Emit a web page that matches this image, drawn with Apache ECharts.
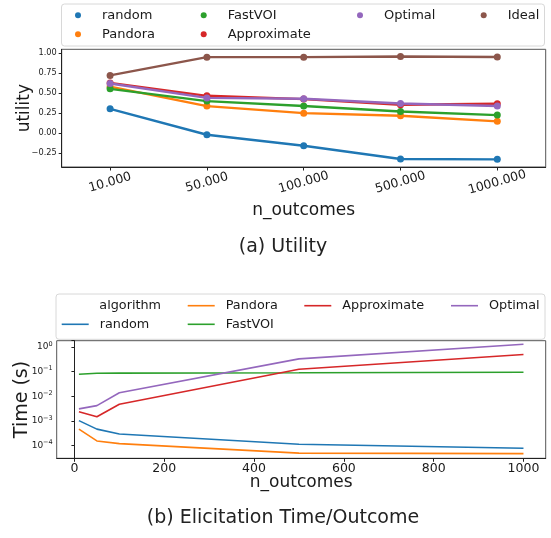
<!DOCTYPE html>
<html>
<head>
<meta charset="utf-8">
<script src="https://cdn.jsdelivr.net/npm/echarts@6/dist/echarts.min.js"></script>
<style>
html,body{margin:0;padding:0;background:#fff;}
#a{position:absolute;left:0;top:0;width:551px;height:270px;}
#b{position:absolute;left:0;top:270px;width:551px;height:268px;}
</style>
</head>
<body>
<div id="a"></div>
<div id="b"></div>
<script>
// ---- Data: (a) Utility ----
const utilityCategories = ['10.000', '50.000', '100.000', '500.000', '1000.000'];
const utilityRandom      = [0.304, -0.019, -0.155, -0.320, -0.325];
const utilityPandora     = [0.580, 0.338, 0.250, 0.217, 0.148];
const utilityFastVOI     = [0.553, 0.400, 0.340, 0.270, 0.226];
const utilityApproximate = [0.627, 0.466, 0.425, 0.354, 0.367];
const utilityOptimal     = [0.620, 0.440, 0.430, 0.370, 0.340];
const utilityIdeal       = [0.720, 0.947, 0.947, 0.955, 0.950];
const utilityTicks = [-0.25, 0, 0.25, 0.5, 0.75, 1.0];

// ---- Data: (b) Elicitation time ----
const timeOutcomes    = [10, 50, 100, 500, 1000];
const timeRandom      = [1.04e-3, 4.7e-4, 3.0e-4, 1.15e-4, 7.9e-5];
const timePandora     = [4.7e-4, 1.56e-4, 1.22e-4, 5.0e-5, 4.8e-5];
const timeFastVOI     = [0.0785, 0.086, 0.087, 0.090, 0.0946];
const timeApproximate = [2.4e-3, 1.5e-3, 4.8e-3, 0.125, 0.50];
const timeOptimal     = [3.1e-3, 4.2e-3, 0.014, 0.33, 1.29];
const timeXTicks = [0, 200, 400, 600, 800, 1000];

const names = ['random', 'Pandora', 'FastVOI', 'Approximate', 'Optimal', 'Ideal'];
const colors = ['#1f77b4', '#ff7f0e', '#2ca02c', '#d62728', '#9467bd', '#8c564b'];
const FONT = 'DejaVu Sans';
const TXT = '#1a1a1a';
const AX = '#222';

function pairs(xs, ys) { return xs.map((x, i) => [x, ys[i]]); }

// ================= Chart A =================
const chartA = echarts.init(document.getElementById('a'), null, {renderer: 'canvas'});
const utilSeries = [utilityRandom, utilityPandora, utilityFastVOI, utilityApproximate, utilityOptimal, utilityIdeal];

function legendA(left, items) {
  return {
    orient: 'vertical', left: left, top: 7.8, padding: 0, itemGap: 4,
    itemWidth: 10, itemHeight: 6, selectedMode: false,
    data: items.map(n => ({name: n, icon: 'circle'})),
    textStyle: {fontFamily: FONT, fontSize: 13, color: TXT, lineHeight: 15, padding: [0, 0, 0, 14]}
  };
}

chartA.setOption({
  animation: false,
  backgroundColor: '#fff',
  color: colors,
  legend: [
    legendA(75, ['random', 'Pandora']),
    legendA(200.7, ['FastVOI', 'Approximate']),
    legendA(357, ['Optimal']),
    legendA(480.7, ['Ideal'])
  ],
  graphic: [
    {type: 'rect', z: -1, shape: {x: 61.5, y: 4, width: 483, height: 42, r: 3},
     style: {fill: '#fff', stroke: '#d8d8d8', lineWidth: 1}},
    {type: 'text', style: {text: '(a) Utility', font: '19px "DejaVu Sans"', fill: '#222', textAlign: 'center', textVerticalAlign: 'middle', x: 283, y: 247}}
  ],
  grid: {left: 61.7, top: 49.3, right: 5.3, height: 117.7, show: true, borderColor: '#555', borderWidth: 1, backgroundColor: 'transparent'},
  xAxis: {
    type: 'category', data: utilityCategories, boundaryGap: true,
    name: 'n_outcomes', nameLocation: 'middle', nameGap: 35, nameMoveOverlap: false,
    nameTextStyle: {fontFamily: FONT, fontSize: 17, color: TXT},
    axisLine: {show: true, onZero: false, lineStyle: {color: AX, width: 1}},
    axisTick: {show: true, alignWithLabel: true, length: 3.5, lineStyle: {color: AX}},
    axisLabel: {interval: 0, rotate: 16, align: 'center', verticalAlign: 'middle', margin: 15.5,
      fontFamily: FONT, fontSize: 12.5, color: TXT},
    splitLine: {show: false}
  },
  yAxis: {
    type: 'value', min: -0.42, max: 1.045,
    name: 'utility', nameLocation: 'middle', nameGap: 29, nameMoveOverlap: false,
    nameTextStyle: {fontFamily: FONT, fontSize: 17, color: TXT},
    axisLine: {show: true, lineStyle: {color: AX, width: 1}},
    axisTick: {show: true, length: 3, lineStyle: {color: AX}, customValues: utilityTicks},
    axisLabel: {customValues: utilityTicks, margin: 5, fontFamily: FONT, fontSize: 8.2, color: TXT,
      formatter: v => (v < 0 ? '\u2212' + Math.abs(v).toFixed(2) : v.toFixed(2))},
    splitLine: {show: false}
  },
  series: utilSeries.map((d, i) => ({
    name: names[i], type: 'line', data: d,
    symbol: 'circle', symbolSize: 7, showSymbol: true,
    lineStyle: {width: 2.4, color: colors[i]},
    itemStyle: {color: colors[i]},
    z: 2 + i
  }))
});

// ================= Chart B =================
const chartB = echarts.init(document.getElementById('b'), null, {renderer: 'canvas'});
const timeSeries = [timeRandom, timePandora, timeFastVOI, timeApproximate, timeOptimal];

function legendB(left, top, items) {
  return {
    orient: 'vertical', left: left, top: top, padding: 0, itemGap: 3.6,
    itemWidth: 27, itemHeight: 1.6, selectedMode: false,
    data: items.map(n => ({name: n, icon: 'rect'})),
    textStyle: {fontFamily: FONT, fontSize: 12.8, color: TXT, lineHeight: 15, padding: [0, 0, 0, 6]}
  };
}

chartB.setOption({
  animation: false,
  backgroundColor: '#fff',
  color: colors,
  legend: [
    legendB(61.7, 46.8, ['random']),
    legendB(187.7, 28.2, ['Pandora', 'FastVOI']),
    legendB(304.3, 28.2, ['Approximate']),
    legendB(451, 28.2, ['Optimal'])
  ],
  graphic: [
    {type: 'rect', z: -1, shape: {x: 56, y: 24, width: 489, height: 45.3, r: 3},
     style: {fill: '#fff', stroke: '#d8d8d8', lineWidth: 1}},
    {type: 'text', style: {text: 'algorithm', font: '12.8px "DejaVu Sans"', fill: TXT, textAlign: 'left', textVerticalAlign: 'middle', x: 99.3, y: 35.7}},
    {type: 'text', style: {text: '(b) Elicitation Time/Outcome', font: '19px "DejaVu Sans"', fill: '#222', textAlign: 'center', textVerticalAlign: 'middle', x: 283, y: 248}}
  ],
  grid: {left: 56.7, top: 70.7, right: 5.3, height: 117.6, show: true, borderColor: '#555', borderWidth: 1, backgroundColor: 'transparent'},
  xAxis: {
    type: 'value', min: -39.5, max: 1049.5,
    name: 'n_outcomes', nameLocation: 'middle', nameGap: 16, nameMoveOverlap: false,
    nameTextStyle: {fontFamily: FONT, fontSize: 17, color: TXT},
    axisLine: {show: true, onZero: false, lineStyle: {color: AX, width: 1}},
    axisTick: {show: true, length: 3.5, lineStyle: {color: AX}, customValues: timeXTicks},
    axisLabel: {customValues: timeXTicks, margin: 4, fontFamily: FONT, fontSize: 12.5, color: TXT,
      formatter: v => String(v)},
    splitLine: {show: false}
  },
  yAxis: {
    type: 'log', logBase: 10, min: 3.09e-5, max: 1.8,
    name: 'Time (s)', nameLocation: 'middle', nameGap: 25.5, nameMoveOverlap: false,
    nameTextStyle: {fontFamily: FONT, fontSize: 19, color: TXT},
    axisLine: {show: true, lineStyle: {color: AX, width: 1}},
    axisTick: {show: true, length: 3, lineStyle: {color: AX}},
    minorTick: {show: false},
    axisLabel: {margin: 4, color: TXT,
      formatter: function (v) {
        const l = Math.log10(v);
        const e = Math.round(l);
        if (Math.abs(l - e) > 1e-6) return '';
        return '{b|10}{s|' + (e < 0 ? '\u2212' + (-e) : e) + '}';
      },
      rich: {
        b: {fontFamily: FONT, fontSize: 9, color: TXT, lineHeight: 13},
        s: {fontFamily: FONT, fontSize: 6.5, color: TXT, verticalAlign: 'top', lineHeight: 8}
      }
    },
    splitLine: {show: false}
  },
  series: timeSeries.map((d, i) => ({
    name: names[i], type: 'line', data: pairs(timeOutcomes, d),
    symbol: 'none', showSymbol: false,
    lineStyle: {width: 1.6, color: colors[i]},
    itemStyle: {color: colors[i]},
    z: 2 + i
  }))
});
</script>
</body>
</html>
